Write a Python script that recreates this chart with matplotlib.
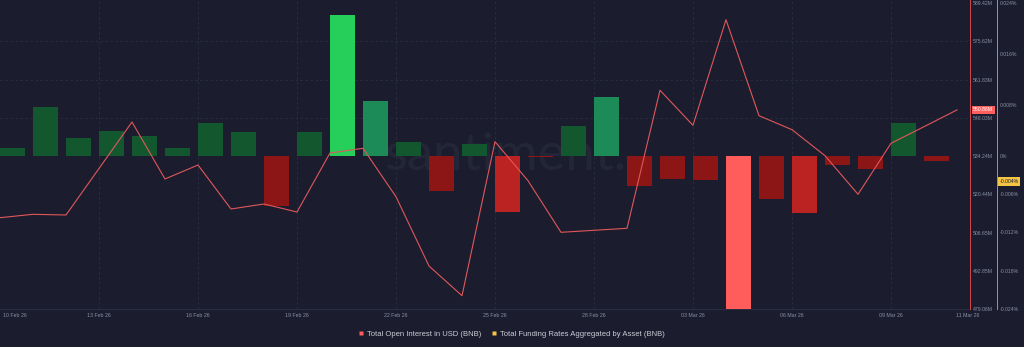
import numpy as np
import pandas as pd
import matplotlib
matplotlib.use("Agg")
import matplotlib.pyplot as plt
from matplotlib.lines import Line2D
import matplotlib.transforms as mtransforms

# ---------------- data ----------------
start_date = "2026-02-10"
dates = pd.date_range(start_date, "2026-03-11", freq="D")   # 30 daily points

# Total Open Interest in USD (BNB), millions
oi_musd = [511.99, 513.21, 512.96, 529.73, 546.50, 525.95, 530.99, 515.13,
           516.93, 514.04, 535.32, 537.02, 519.56, 494.57, 483.86, 539.40,
           525.33, 506.72, 507.44, 508.17, 557.94, 545.31, 583.40, 548.77,
           543.73, 534.35, 520.43, 538.82, 544.81, 550.86]

# Total Funding Rates Aggregated by Asset (BNB), percent
funding_pct = [0.00118, 0.00761, 0.00275, 0.00389, 0.00306, 0.00118, 0.00515,
               0.00384, -0.00792, 0.00380, 0.02215, 0.00855, 0.00227, -0.00552,
               0.00196, -0.00875, -0.00020, 0.00467, 0.00933, -0.00474,
               -0.00358, -0.00384, -0.02400, -0.00671, -0.00897, -0.00144,
               -0.00201, 0.00510, -0.00082]

tick_dates = ["2026-02-10", "2026-02-13", "2026-02-16", "2026-02-19",
              "2026-02-22", "2026-02-25", "2026-02-28", "2026-03-03",
              "2026-03-06", "2026-03-09", "2026-03-11"]
tick_labels = ["10 Feb 26", "13 Feb 26", "16 Feb 26", "19 Feb 26", "22 Feb 26",
               "25 Feb 26", "28 Feb 26", "03 Mar 26", "06 Mar 26", "09 Mar 26",
               "11 Mar 26"]

oi_ticks = [479.06, 492.85, 506.65, 520.44, 534.24, 548.03, 561.83, 575.62, 589.42]
oi_tick_labels = [f"{v:.2f}M" for v in oi_ticks]
funding_ticks = [-0.024, -0.018, -0.012, -0.006, 0.0, 0.008, 0.016, 0.024]
funding_tick_labels = ["-0.024%", "-0.018%", "-0.012%", "-0.006%", "0%",
                       "0.008%", "0.016%", "0.024%"]
funding_grid = [-0.018, -0.012, -0.006, 0.0, 0.006, 0.012, 0.018]
funding_last_label = -0.004
oi_last_label = "550.86M"
funding_last_text = "-0.004%"

# ---------------- style ----------------
BG = "#1b1d2e"
GRID = "#2a2e42"
TXT = "#8a8fa3"
LINE = "#e0575a"
OI_SPINE = "#d14a4f"
FR_SPINE = "#b8943f"

def bar_color(v):
    a = abs(v)
    if v >= 0:
        if a > 0.016:
            return "#25cf5a"
        if a > 0.008:
            return "#1d8b57"
        return "#13572e"
    else:
        if a > 0.016:
            return "#ff5c5c"
        if a > 0.008:
            return "#bb2323"
        return "#8c1515"

W, H = 1024, 347
plt.rcParams["font.family"] = ["Liberation Sans", "DejaVu Sans"]
fig = plt.figure(figsize=(W / 100, H / 100), dpi=100, facecolor=BG)

ax_bottom_px = 309
ax_right_px = 970
ax = fig.add_axes([0, 1 - ax_bottom_px / H, ax_right_px / W, ax_bottom_px / H])
ax.set_facecolor(BG)
ax2 = ax.twinx()

x_line = np.array([(d - pd.Timestamp(start_date)).days for d in dates])
x_bar = x_line[:len(funding_pct)]
px_per_day = 33.0

# bars (funding)
ax.bar(x_bar, funding_pct, width=25 / px_per_day, align="edge",
       color=[bar_color(v) for v in funding_pct], zorder=2, linewidth=0)

# watermark
ax.text(505 / ax_right_px, (ax_bottom_px - 170) / ax_bottom_px, "santiment.",
        transform=ax.transAxes, ha="center", va="baseline", fontsize=38,
        color="#232636", family=["Lato", "DejaVu Sans"], zorder=1)

ax.set_xlim(0, ax_right_px / px_per_day)
fr_lo, fr_hi = -0.024, 0.024
fr_top = fr_hi + 3 * (fr_hi - fr_lo) / 306
ax.set_ylim(fr_lo, fr_top)

tick_pos = [(pd.Timestamp(t) - pd.Timestamp(start_date)).days for t in tick_dates]
ax.set_xticks(tick_pos)
ax.set_xticklabels(tick_labels)
ax.tick_params(axis="x", length=0, pad=2.6, labelsize=3.8, colors=TXT)
xl = ax.get_xticklabels()
xl[0].set_transform(xl[0].get_transform() +
                    mtransforms.ScaledTranslation(15 / 100, 0, fig.dpi_scale_trans))
xl[-1].set_transform(xl[-1].get_transform() +
                     mtransforms.ScaledTranslation(11 / 100, 0, fig.dpi_scale_trans))
ax.grid(axis="x", color=GRID, linestyle=(0, (3, 3)), linewidth=0.6, zorder=0)
ax.get_xgridlines()[-1].set_visible(False)
ax.get_xgridlines()[0].set_visible(False)

ax.yaxis.tick_right()
ax.yaxis.set_label_position("right")
ax.set_yticks(funding_ticks)
ax.set_yticklabels(funding_tick_labels)
ax.set_yticks(funding_grid, minor=True)
ax.grid(axis="y", which="minor", color=GRID, linestyle=(0, (3, 3)), linewidth=0.6, zorder=0)
ax.tick_params(axis="y", which="both", length=0, pad=2.2, labelsize=3.7, colors=TXT,
               left=False, labelleft=False, right=True, labelright=True)
ax.set_axisbelow(True)

for s in ["top", "left"]:
    ax.spines[s].set_visible(False)
ax.spines["bottom"].set_color(GRID)
ax.spines["bottom"].set_linewidth(0.7)
ax.spines["right"].set_position(("outward", 27 * 0.72))
ax.spines["right"].set_color(FR_SPINE)
ax.spines["right"].set_linewidth(0.7)

# line (open interest)
ax2.plot(x_line, oi_musd, color=LINE, linewidth=0.8, zorder=3)
oi_lo, oi_hi = oi_ticks[0], oi_ticks[-1]
ax2.set_ylim(oi_lo, oi_hi + 3 * (oi_hi - oi_lo) / 306)
ax2.set_yticks(oi_ticks)
ax2.set_yticklabels(oi_tick_labels)
ax2.tick_params(axis="y", length=0, pad=2.2, labelsize=3.7, colors=TXT)
for s in ["top", "left", "bottom"]:
    ax2.spines[s].set_visible(False)
ax2.spines["right"].set_color(OI_SPINE)
ax2.spines["right"].set_linewidth(0.7)

# last-value labels
ax2.annotate(oi_last_label, xy=(1, oi_musd[-1]), xycoords=("axes fraction", "data"),
             xytext=(2.2, 0), textcoords="offset points", ha="left", va="center",
             fontsize=3.7, color="white", annotation_clip=False,
             bbox=dict(boxstyle="square,pad=0.3", fc="#ff5f5f", ec="none"), zorder=5)
ax.annotate(funding_last_text, xy=(1, funding_last_label), xycoords=("axes fraction", "data"),
            xytext=(27 * 0.72 + 1.8, 0), textcoords="offset points", ha="left", va="center",
            fontsize=3.7, color=BG, annotation_clip=False,
            bbox=dict(boxstyle="square,pad=0.3", fc="#f4c542", ec="none"), zorder=5)

# legend
handles = [Line2D([], [], linestyle="none", marker="s", markersize=3.3,
                  markerfacecolor="#ff5c5c", markeredgecolor="none"),
           Line2D([], [], linestyle="none", marker="s", markersize=3.3,
                  markerfacecolor="#f4c542", markeredgecolor="none")]
labels = ["Total Open Interest in USD (BNB)",
          "Total Funding Rates Aggregated by Asset (BNB)"]
leg = fig.legend(handles, labels, loc="center", bbox_to_anchor=(511.5 / W, 1 - 334 / H),
                 ncol=2, frameon=False, fontsize=5.5, handlelength=0.7,
                 handletextpad=0.4, columnspacing=1.3, borderpad=0, borderaxespad=0)
for t in leg.get_texts():
    t.set_color("#c9ccd6")

fig.savefig("out.png", dpi=100, facecolor=BG)
